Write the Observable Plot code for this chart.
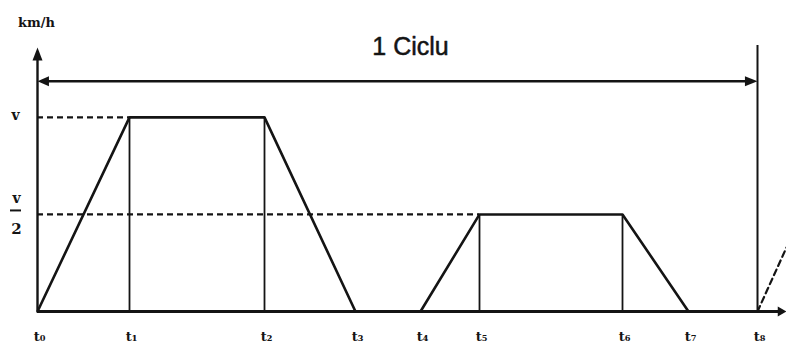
<!DOCTYPE html>
<html>
<head>
<meta charset="utf-8">
<script src="https://cdn.jsdelivr.net/npm/d3@7"></script>
<script src="https://cdn.jsdelivr.net/npm/@observablehq/plot@0.6"></script>
<style>
  html, body { margin: 0; padding: 0; background: #fff; }
  svg { display: block; }
</style>
</head>
<body>
<div id="chart"></div>
<script>
// time instants of one cycle (arbitrary time units) and their labels
const tLabels = ["t₀", "t₁", "t₂", "t₃", "t₄", "t₅", "t₆", "t₇", "t₈"];
const tTimes = [0, 92, 227, 318, 383, 442, 585, 651, 720];
// speed at each instant, as a fraction of v
const speeds = [0, 1, 1, 0, 0, 0.5, 0.5, 0, 0];
// reference speed levels
const levels = [1, 0.5];
const levelStarts = [92, 442];   // time where each dashed level meets the trace
const cycleLabel = "1 Ciclu";
const unitLabel = "km/h";
// start of next cycle (dashed)
const nextTimes = [720, 749];
const nextSpeeds = [0, 0.33];

const yTop = 1.36;      // top of the speed axis
const cycleY = 1.186;   // height of the cycle arrow
const xEnd = 749;       // end of time axis

const trace = tTimes.map((t, i) => ({t, v: speeds[i]}));
const verticals = trace.filter((d, i) => i >= 1 && i <= 6 && d.v > 0);
const dashed = levels.map((v, i) => ({v, t: levelStarts[i]}));
const ticks = tTimes.map((t, i) => ({t, label: tLabels[i]}));
const next = nextTimes.map((t, i) => ({t, v: nextSpeeds[i]}));

const ink = "#141414";
const serif = "'DejaVu Serif', 'Liberation Serif', serif";

// filled, elongated arrowhead for Plot.vector (tip at the anchor point)
const head = {
  draw(context, l, r) {
    context.moveTo(0, -l);
    context.lineTo(-r, 0);
    context.lineTo(r, 0);
    context.closePath();
  }
};
const heads = [
  {t: 0, v: yTop, rot: 0, len: 24, r: 4.5},
  {t: xEnd, v: 0, rot: 90, len: 16, r: 6},
  {t: 0, v: cycleY, rot: -90, len: 21, r: 5},
  {t: 720, v: cycleY, rot: 90, len: 23, r: 5}
];

const chart = Plot.plot({
  width: 786,
  height: 347,
  marginLeft: 37,
  marginRight: 29,
  marginTop: 47,
  marginBottom: 36,
  x: {type: "linear", domain: [0, 720], axis: null},
  y: {type: "linear", domain: [0, yTop], axis: null},
  style: {background: "#fff", color: ink},
  marks: [
    // dashed reference levels
    Plot.ruleY(dashed, {y: "v", x1: 0, x2: "t", stroke: ink, strokeWidth: 2.2, strokeDasharray: "6,4"}),
    // vertical drop lines
    Plot.ruleX(verticals, {x: "t", y1: 0, y2: "v", stroke: ink, strokeWidth: 1.8}),
    // next cycle start (dashed)
    Plot.line(next, {x: "t", y: "v", stroke: ink, strokeWidth: 2.2, strokeDasharray: "6,4"}),
    // end of cycle line
    Plot.ruleX([{t: tTimes[tTimes.length - 1]}], {x: "t", y1: 0, y2: yTop + 0.01, stroke: ink, strokeWidth: 2}),
    // speed axis
    Plot.ruleX([{t: 0}], {x: "t", y1: 0, y2: yTop - 0.05, stroke: ink, strokeWidth: 2.4}),
    // time axis
    Plot.ruleY([{v: 0}], {y: "v", x1: 0, x2: xEnd - 8, stroke: ink, strokeWidth: 2.8}),
    // speed trace
    Plot.line(trace, {x: "t", y: "v", stroke: ink, strokeWidth: 2.6, strokeLinejoin: "round"}),
    // cycle arrow
    Plot.ruleY([{v: cycleY}], {y: "v", x1: 8, x2: 712, stroke: ink, strokeWidth: 2.4}),
    // arrowheads
    Plot.vector(heads, {x: "t", y: "v", rotate: "rot", length: "len", r: 5, shape: head, anchor: "end", fill: ink, stroke: "none"}),
    Plot.text([{t: 373, v: yTop, s: cycleLabel}], {x: "t", y: "v", text: "s", dy: -1, fontSize: 25, fontFamily: "'Liberation Sans', Arial, sans-serif", fill: ink, stroke: ink, strokeWidth: 0.5}),
    // unit label
    Plot.text([{t: 0, v: yTop, s: unitLabel}], {x: "t", y: "v", text: "s", dx: -1, dy: -25, fontSize: 13, fontWeight: "bold", fontFamily: serif, fill: ink}),
    // level labels
    Plot.text([{t: 0, v: levels[0]}], {x: "t", y: "v", text: () => "v", dx: -22, dy: -2, fontSize: 14, fontWeight: "bold", fontFamily: serif, fill: ink}),
    Plot.text([{t: 0, v: levels[1]}], {x: "t", y: "v", text: () => "v", dx: -21, dy: -16, fontSize: 14, fontWeight: "bold", fontFamily: serif, fill: ink}),
    Plot.text([{t: 0, v: levels[1]}], {x: "t", y: "v", text: () => "2", dx: -21, dy: 15, fontSize: 15, fontWeight: "bold", fontFamily: serif, fill: ink}),
    Plot.ruleY([{v: levels[1]}], {y: "v", x1: -27, x2: -16, dy: -4, stroke: ink, strokeWidth: 2}),
    // time labels
    Plot.text(ticks, {x: "t", y: 0, text: "label", dy: 25, dx: 2, fontSize: 13, fontWeight: "bold", fontFamily: serif, fill: ink})
  ]
});
document.getElementById("chart").append(chart);
</script>
</body>
</html>
